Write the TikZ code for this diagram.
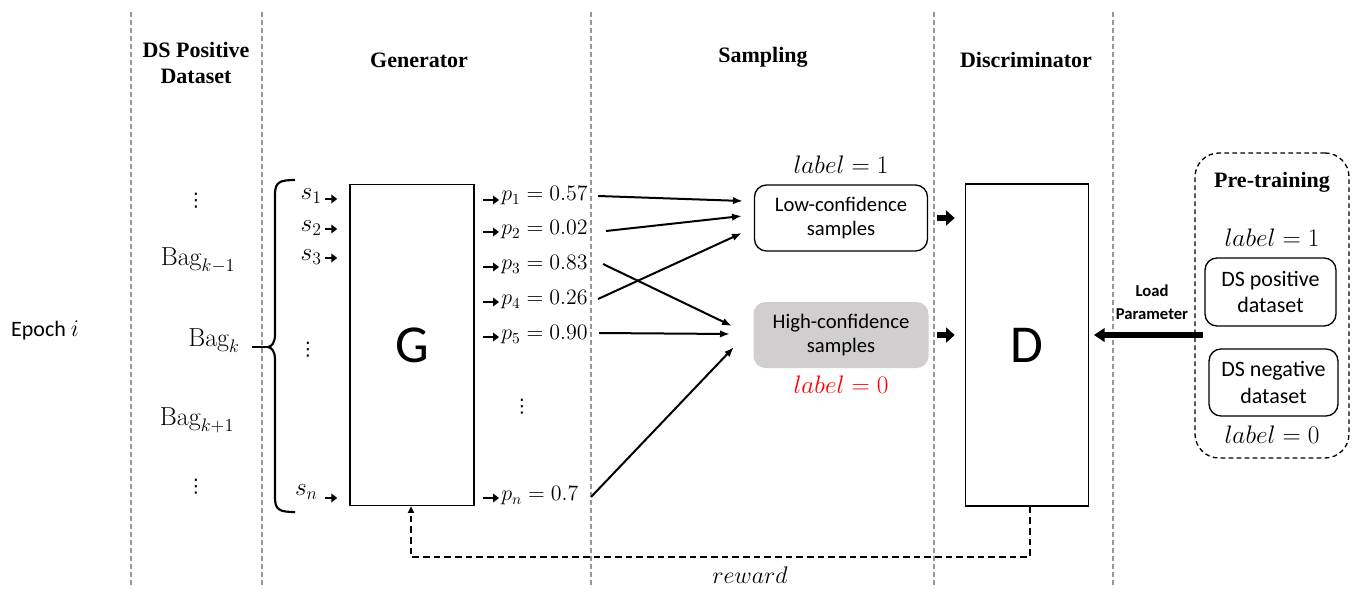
\RequirePackage{fix-cm}
\documentclass[tikz,border=0pt]{standalone}
\usepackage{fontspec}
\newfontfamily\calib{Carlito}
\newfontfamily\tms{Liberation Serif}
\newfontfamily\djv{DejaVu Sans}
\usetikzlibrary{arrows.meta}
\definecolor{sepgray}{RGB}{150,150,150}
\definecolor{hcgray}{RGB}{208,206,206}
\definecolor{lblred}{RGB}{255,0,0}
\begin{document}
\begin{tikzpicture}[x=0.75pt,y=-0.75pt,
  sep/.style={draw=sepgray, line width=0.8pt, dash pattern=on 3.5pt off 2.5pt},
  hd/.style={font=\tms\bfseries\fontsize{16.5}{19.5}\selectfont, align=center, inner sep=0pt},
  sf/.style={font=\calib\fontsize{15.5}{18.5}\selectfont, align=center, inner sep=0pt},
  mt/.style={font=\fontsize{16.5}{19}\selectfont, inner sep=0pt},
  lbl/.style={font=\fontsize{19}{21}\selectfont, inner sep=0pt},
  vd/.style={font=\djv\fontsize{14}{16}\selectfont, inner sep=0pt},
  bagf/.style={font=\fontsize{19.5}{21}\selectfont, inner sep=0pt},
  bigbox/.style={draw, line width=1.1pt, inner sep=0pt, font=\calib\fontsize{40}{44}\selectfont},
  rbox/.style={draw, line width=1pt, rounded corners=9pt, sf},
  hbox/.style={fill=hcgray, rounded corners=9pt, sf},
  smallarr/.style={line width=2pt, -{Triangle[length=4.5pt,width=6.5pt]}},
  samp/.style={line width=1.5pt, -{Latex[length=7.5pt,width=5.5pt]}},
  blockarr/.style={line width=4.5pt, -{Triangle[length=6.5pt,width=11pt]}},
  loadarr/.style={line width=4.5pt, -{Triangle[length=8pt,width=10pt]}},
  rew/.style={line width=1.5pt, dash pattern=on 5pt off 3pt, -{Triangle[length=5pt,width=4.5pt]}},
]
\useasboundingbox (0,0) rectangle (1362,603);

% column separators
\foreach \xx in {131,262,591,934,1113}
  \draw[sep] (\xx,12) -- (\xx,588);

% headings
\node[hd] (hds) at (196,63) {DS Positive\\Dataset};
\node[hd] (hgen) at (419,60) {Generator};
\node[hd] (hsam) at (763,57) {Sampling};
\node[hd] (hdis) at (1026,60) {Discriminator};

% epoch
\node[sf, font=\calib\fontsize{16.5}{19}\selectfont] (epoch) at (45,330) {Epoch {\fontsize{18}{19}\selectfont$i$}};

% bags
\node[vd] (vd1) at (196,201) {⋮};
\node[bagf] (bkm) at (198,260) {$\mathrm{Bag}_{k-1}$};
\node[bagf] (bk) at (214,341) {$\mathrm{Bag}_{k}$};
\node[bagf] (bkp) at (197,420) {$\mathrm{Bag}_{k+1}$};
\node[vd] (vd2) at (196,487) {⋮};

% brace
\coordinate (btip) at (268,347);
\draw[line width=1.6pt] (295,180) .. controls (280,180) and (275,182) .. (275,194)
  -- (275,334) .. controls (275,343) and (272,346) .. (btip)
  .. controls (272,348) and (275,351) .. (275,360)
  -- (275,498) .. controls (275,510) and (280,512) .. (295,512);
\draw[line width=1.2pt, shorten <=9pt] (bk.east |- btip) -- (btip);

% generator box
\node[bigbox, minimum width=93pt, minimum height=240.75pt] (G) at (412,345) {G};

% s inputs
\node[lbl, anchor=east] (s1) at (322,196) {$s_1$};
\node[lbl, anchor=east] (s2) at (322,228) {$s_2$};
\node[lbl, anchor=east] (s3) at (322,257) {$s_3$};
\node[vd] (svd) at (308,350) {⋮};
\node[lbl, anchor=east] (sn) at (318,492) {$s_n$};
\foreach \s/\yy in {s1/199,s2/229,s3/258,sn/498}
  \draw[smallarr, shorten >=9pt] (325,\yy) -- (G.west |- 0,\yy);

% p outputs
\node[mt, anchor=west] (p1) at (501,196) {$p_1 = 0.57$};
\node[mt, anchor=west] (p2) at (501,230) {$p_2 = 0.02$};
\node[mt, anchor=west] (p3) at (501,265) {$p_3 = 0.83$};
\node[mt, anchor=west] (p4) at (501,300) {$p_4 = 0.26$};
\node[mt, anchor=west] (p5) at (501,335) {$p_5 = 0.90$};
\node[vd] (pvd) at (522,407) {⋮};
\node[mt, anchor=west] (pn) at (501,496) {$p_n = 0.7$};
\foreach \p/\yy in {p1/200,p2/232,p3/267,p4/302,p5/337,pn/498}
  \draw[smallarr, shorten <=6.5pt] (G.east |- 0,\yy) -- (499,\yy);

% sampling boxes
\node[rbox, minimum width=129.75pt, minimum height=49.5pt] (low) at (841,218) {Low-confidence\\samples};
\node[hbox, minimum width=131.25pt, minimum height=49.5pt] (high) at (841,335) {High-confidence\\samples};
\node[lbl] (l1) at (841,165) {$label = 1$};
\node[lbl, text=lblred] (l0) at (841,385) {$label = 0$};

\coordinate (lc1) at (743,201);
\coordinate (lc2) at (742,216);
\coordinate (lc3) at (742,233);
\coordinate (hc1) at (732,326);
\coordinate (hc2) at (730,334);
\coordinate (hc3) at (734,347);
\coordinate (ps1) at (598,196);
\coordinate (ps2) at (606,231);
\coordinate (ps3) at (603,264);
\coordinate (ps4) at (598,299);
\coordinate (ps5) at (599,333);
\coordinate (ps6) at (591,497);
\draw[samp] (ps1) -- (lc1);
\draw[samp] (ps2) -- (lc2);
\draw[samp] (ps3) -- (hc1);
\draw[samp] (ps4) -- (lc3);
\draw[samp] (ps5) -- (hc2);
\draw[samp] (ps6) -- (hc3);

% discriminator box
\node[bigbox, minimum width=92.25pt, minimum height=241.5pt] (D) at (1027,345) {D};
\draw[blockarr, shorten <=6.5pt, shorten >=7.5pt] (low.east) -- (low.east -| D.west);
\draw[blockarr, shorten <=6.5pt, shorten >=7.5pt] (high.east) -- (high.east -| D.west);

% pre-training
\node[draw, line width=1pt, dash pattern=on 3.5pt off 2.5pt, rounded corners=18pt,
      minimum width=115.5pt, minimum height=228.75pt] (pre) at (1272,305.5) {};
\node[hd] (hpre) at (1272,182) {Pre-training};
\node[lbl] (pl1) at (1272,238) {$label = 1$};
\node[rbox, font=\calib\fontsize{16.5}{20}\selectfont, minimum width=98.25pt, minimum height=51pt] (dspos) at (1270.5,292) {DS positive\\dataset};
\node[rbox, font=\calib\fontsize{16.5}{20}\selectfont, minimum width=96.75pt, minimum height=50.25pt] (dsneg) at (1273.5,382.5) {DS negative\\dataset};
\node[lbl] (pl0) at (1272,435) {$label = 0$};

% load parameter
\coordinate (lps) at (1203,335);
\draw[loadarr, shorten >=3.5pt] (lps) -- (lps -| D.east);
\node[sf, font=\calib\bfseries\fontsize{12.5}{17}\selectfont] (lpl) at (1152,302) {Load\\Parameter};

% reward loop
\coordinate (rwr) at (1030,557);
\coordinate (rwl) at (411,557);
\draw[rew] (rwr |- D.south) -- (rwr) -- (rwl) -- (rwl |- G.south);
\node[lbl, font=\fontsize{18}{20}\selectfont] (rwt) at (750,575) {$reward$};
\end{tikzpicture}
\end{document}
